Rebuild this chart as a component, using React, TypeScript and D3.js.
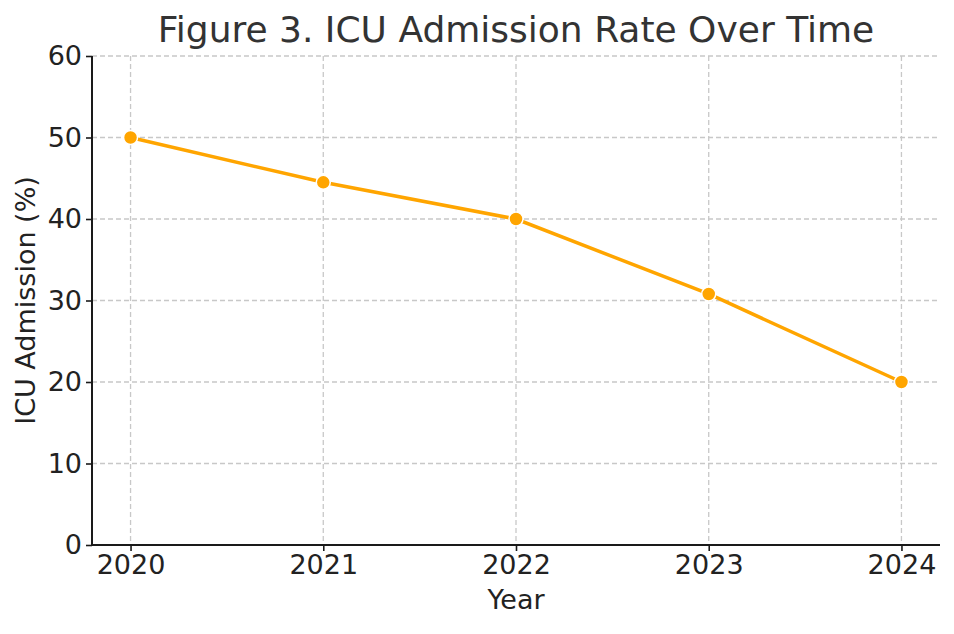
import React, { useRef, useEffect } from 'react';
import * as d3 from 'd3';

const years: number[] = [2020, 2021, 2022, 2023, 2024];
const icuRate: number[] = [50, 44.5, 40, 30.8, 20];
const yTicks: number[] = [0, 10, 20, 30, 40, 50, 60];

const width = 954;
const height = 634;
const margin = { top: 56, right: 14, bottom: 89, left: 92 };

const App: React.FC = () => {
    const ref = useRef<SVGSVGElement>(null);

    useEffect(() => {
        if (!ref.current) return;
        const svg = d3.select(ref.current);
        svg.selectAll("*").remove();

        const innerW = width - margin.left - margin.right;
        const innerH = height - margin.top - margin.bottom;
        const font = "DejaVu Sans, sans-serif";

        const x = d3.scaleLinear().domain([2019.8, 2024.2]).range([0, innerW]);
        const y = d3.scaleLinear().domain([0, 60]).range([innerH, 0]);

        const g = svg.append("g").attr("transform", `translate(${margin.left},${margin.top})`);

        // grid
        g.selectAll(".vgrid").data(years).enter().append("line")
            .attr("x1", d => x(d)).attr("x2", d => x(d))
            .attr("y1", 0).attr("y2", innerH)
            .attr("stroke", "#c8c8c8").attr("stroke-width", 1.3).attr("stroke-dasharray", "5,3");
        g.selectAll(".hgrid").data(yTicks).enter().append("line")
            .attr("x1", 0).attr("x2", innerW)
            .attr("y1", d => y(d)).attr("y2", d => y(d))
            .attr("stroke", "#c8c8c8").attr("stroke-width", 1.3).attr("stroke-dasharray", "5,3");

        // axes
        const xAxis = g.append("g").attr("transform", `translate(0,${innerH})`)
            .call(d3.axisBottom(x).tickValues(years).tickFormat(d3.format("d")).tickSize(6).tickPadding(4));
        const yAxis = g.append("g")
            .call(d3.axisLeft(y).tickValues(yTicks).tickSize(6).tickPadding(4));

        [xAxis, yAxis].forEach(a => {
            a.select(".domain").attr("stroke", "#1a1a1a").attr("stroke-width", 2);
            a.selectAll(".tick line").attr("stroke", "#1a1a1a").attr("stroke-width", 1.6);
            a.selectAll(".tick text").attr("font-family", font).attr("font-size", 27).attr("fill", "#222");
        });
        xAxis.select(".domain").attr("d", `M0,0H${innerW}`);
        yAxis.select(".domain").attr("d", `M0,${innerH}V0`);

        // line
        const line = d3.line<number>().x((_, i) => x(years[i])).y(d => y(d));
        g.append("path").datum(icuRate)
            .attr("d", line)
            .attr("fill", "none").attr("stroke", "#FFA500").attr("stroke-width", 3.5);

        g.selectAll(".pt").data(icuRate).enter().append("circle")
            .attr("cx", (_, i) => x(years[i])).attr("cy", d => y(d))
            .attr("r", 7).attr("fill", "#FFA500").attr("stroke", "#fff").attr("stroke-width", 1.5);

        // labels
        svg.append("text").attr("x", margin.left + innerW / 2).attr("y", 42)
            .attr("text-anchor", "middle").attr("font-family", font).attr("font-size", 36)
            .attr("fill", "#333").text("Figure 3. ICU Admission Rate Over Time");
        svg.append("text").attr("x", margin.left + innerW / 2).attr("y", 609)
            .attr("text-anchor", "middle").attr("font-family", font).attr("font-size", 27)
            .attr("fill", "#222").text("Year");
        svg.append("text")
            .attr("transform", `translate(35,${margin.top + innerH / 2}) rotate(-90)`)
            .attr("text-anchor", "middle").attr("font-family", font).attr("font-size", 27)
            .attr("fill", "#222").text("ICU Admission (%)");
    }, []);

    return <svg ref={ref} width={width} height={height} style={{ display: "block", position: "absolute", left: 0, top: 0 }}></svg>;
};

export default App;
